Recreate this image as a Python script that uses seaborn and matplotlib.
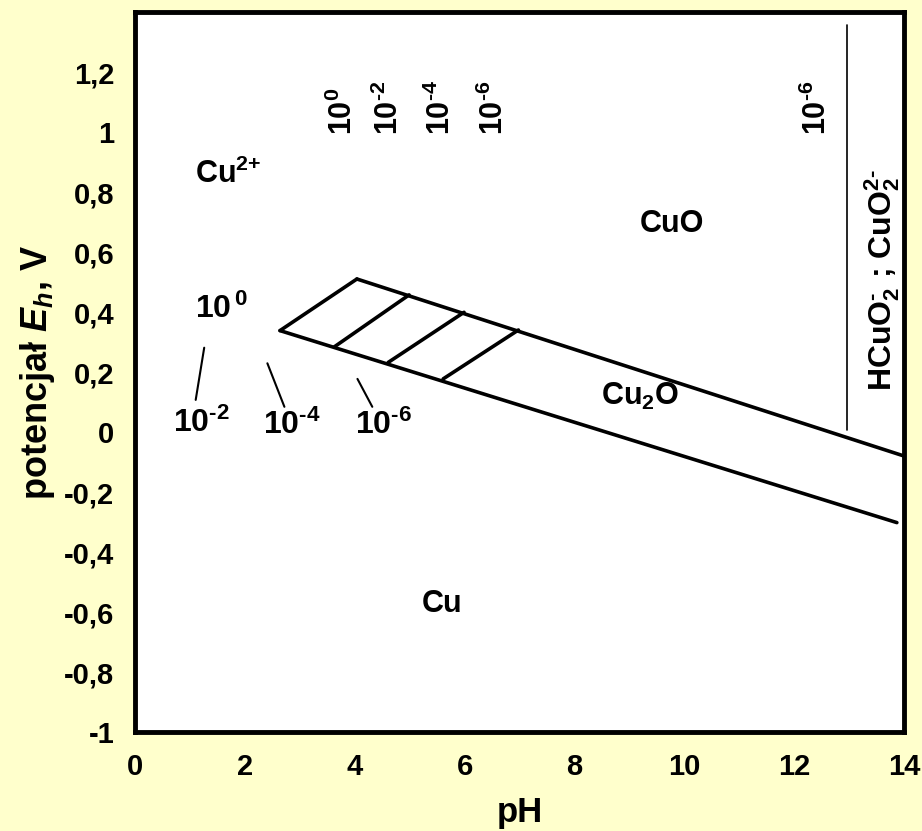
import matplotlib
matplotlib.use("Agg")
import matplotlib.pyplot as plt
import seaborn as sns
import numpy as np

# ---- data (pH, E in V) ----
upper_ph = [4.04, 14.0]
upper_e = [0.51, -0.08]
lower_ph = [2.64, 13.87]
lower_e = [0.338, -0.302]
diag_ph_start = [2.64, 3.63, 4.61, 5.61]
diag_e_start = [0.338, 0.284, 0.232, 0.177]
diag_ph_end = [4.04, 4.99, 5.99, 6.98]
diag_e_end = [0.51, 0.457, 0.399, 0.34]
lead_ph_start = [1.26, 2.41, 4.05]
lead_e_start = [0.281, 0.229, 0.177]
lead_ph_end = [1.105, 2.72, 4.32]
lead_e_end = [0.107, 0.084, 0.084]
vert_ph = [12.97, 12.97]
vert_e = [0.007, 1.357]

xticks = [0, 2, 4, 6, 8, 10, 12, 14]
yticks = [-1, -0.8, -0.6, -0.4, -0.2, 0, 0.2, 0.4, 0.6, 0.8, 1.0, 1.2]
ytick_labels = ["-1", "-0,8", "-0,6", "-0,4", "-0,2", "0", "0,2", "0,4", "0,6", "0,8", "1", "1,2"]

# concentration labels (horizontal, left side)
conc_h_text = [r"10$^{\,0}$", r"10$^{\text{-}2}$", r"10$^{\text{-}4}$", r"10$^{\text{-}6}$"]
conc_h_x = [1.09, 0.69, 2.33, 4.0]
conc_h_y = [0.38, 0.0, -0.007, -0.007]
# concentration labels (vertical, top)
conc_v_text = [r"10$^{0}$", r"10$^{\text{-}2}$", r"10$^{\text{-}4}$", r"10$^{\text{-}6}$", r"10$^{\text{-}6}$"]
conc_v_x = [3.80, 4.63, 5.58, 6.54, 12.42]
conc_v_y = [0.99, 0.99, 0.99, 0.99, 0.99]

sns.set_theme(style="white")
plt.rcParams["font.family"] = ["Liberation Sans", "DejaVu Sans"]
plt.rcParams["font.weight"] = "bold"
plt.rcParams["text.color"] = "black"
plt.rcParams["axes.labelcolor"] = "black"
plt.rcParams["xtick.color"] = "black"
plt.rcParams["ytick.color"] = "black"
plt.rcParams["mathtext.fontset"] = "custom"
plt.rcParams["mathtext.rm"] = "Liberation Sans:bold"
plt.rcParams["mathtext.it"] = "Liberation Sans:bold:italic"
plt.rcParams["mathtext.bf"] = "Liberation Sans:bold"
plt.rcParams["mathtext.default"] = "rm"

bg = "#FFFFCC"
fig = plt.figure(figsize=(9.22, 8.31), dpi=100, facecolor=bg)
ax = fig.add_axes([135 / 922, 1 - 732 / 831, (904 - 135) / 922, (732 - 12) / 831])
ax.set_facecolor("white")

def seg(xs, ys, lw):
    sns.lineplot(x=xs, y=ys, ax=ax, color="black", linewidth=lw,
                 sort=False, estimator=None, legend=False)

seg(upper_ph, upper_e, 2.6)
seg(lower_ph, lower_e, 2.6)
for x0, y0, x1, y1 in zip(diag_ph_start, diag_e_start, diag_ph_end, diag_e_end):
    seg([x0, x1], [y0, y1], 2.6)
for x0, y0, x1, y1 in zip(lead_ph_start, lead_e_start, lead_ph_end, lead_e_end):
    seg([x0, x1], [y0, y1], 1.5)
seg(vert_ph, vert_e, 1.2)

ax.set_xlim(0, 14)
ax.set_ylim(-1, 1.4)
ax.set_xticks(xticks)
ax.set_xticklabels([str(t) for t in xticks])
ax.set_yticks(yticks)
ax.set_yticklabels(ytick_labels)
ax.tick_params(axis="both", length=0, labelsize=21, colors="black")
ax.tick_params(axis="y", pad=15)
ax.tick_params(axis="x", pad=15)
for lab in ax.get_xticklabels() + ax.get_yticklabels():
    lab.set_fontweight("bold")
for s in ax.spines.values():
    s.set_visible(True)
    s.set_linewidth(3.5)
    s.set_color("black")

ax.set_xlabel("pH", fontsize=25, fontweight="bold", labelpad=11, color="black")
ax.set_ylabel(r"potencjał $\mathit{E_h}$, V", fontsize=26, fontweight="bold", labelpad=5, color="black")

# region labels
kw = dict(fontweight="bold", color="black")
ax.text(1.09, 0.83, r"Cu$^{2{+}}$", fontsize=22, ha="left", va="baseline", **kw)
ax.text(9.78, 0.693, "CuO", fontsize=22, ha="center", va="center", **kw)
ax.text(9.19, 0.12, r"Cu$_{2}$O", fontsize=22, ha="center", va="center", **kw)
ax.text(5.59, -0.573, "Cu", fontsize=22, ha="center", va="center", **kw)
ax.text(13.6, 0.507, r"HCuO$_{2}^{\text{-}}$ ; CuO$_{2}^{2\text{-}}$", fontsize=23,
        rotation=90, ha="center", va="center", **kw)

for t, x, y in zip(conc_h_text, conc_h_x, conc_h_y):
    ax.text(x, y, t, fontsize=23, ha="left", va="baseline", **kw)
for t, x, y in zip(conc_v_text, conc_v_x, conc_v_y):
    ax.text(x, y, t, fontsize=22, rotation=90, ha="center", va="bottom", **kw)

fig.savefig("out.png", dpi=100, facecolor=bg)
